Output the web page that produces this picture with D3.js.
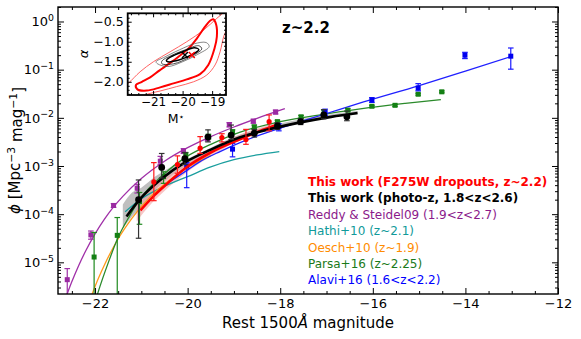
<!DOCTYPE html>
<html><head><meta charset="utf-8">
<script src="https://cdn.jsdelivr.net/npm/d3@7"></script>
<style>
body{margin:0;background:#fff;}
svg{display:block;font-family:"DejaVu Sans",sans-serif;}
</style></head><body>
<svg id="c" width="581" height="339"></svg>
<script>
// ---------- DATA (values are log10 of phi) ----------
const xMajorTicks = [-22,-20,-18,-16,-14,-12];
const yMajorTicks = [1e-5,1e-4,1e-3,1e-2,1e-1,1];
const insetXTicks = [-21,-20,-19];
const insetYTicks = [-2.0,-1.5,-1.0,-0.5];

// points: [M, logphi, logphi_low, logphi_high]
const redPts = [[-20.73,-3.33,-3.72,-2.93],[-20.22,-2.97,-3.15,-2.79],[-19.73,-2.63,-2.74,-2.39],[-19.26,-2.41,-2.50,-2.33],[-18.74,-2.45,-2.55,-2.24],[-18.24,-2.08,-2.27,-1.94]];
const blackPts = [[-21.06,-3.70,-4.50,-3.29],[-20.56,-3.03,-3.25,-2.74],[-20.06,-2.85,-2.97,-2.72],[-19.56,-2.40,-2.50,-2.25],[-19.06,-2.36,-2.45,-2.15],[-18.56,-2.32,-2.40,-2.24],[-18.06,-2.17,-2.24,-2.10],[-17.56,-2.08,-2.14,-2.02],[-17.06,-1.94,-2.02,-1.83],[-16.56,-1.98,-2.06,-1.86]];
const purplePts = [[-22.6,-5.36,-6.5,-5.13],[-22.09,-4.43,-4.52,-4.35],[-21.6,-3.82,-3.86,-3.78],[-21.09,-3.46,-3.56,-3.38],[-20.59,-2.90,-2.97,-2.80],[-20.09,-2.69,-2.74,-2.64],[-19.57,-2.43,-2.48,-2.38],[-19.1,-2.14,-2.19,-2.10],[-18.58,-2.07,-2.11,-2.03],[-18.1,-1.88,-1.92,-1.84]];
const greenPts = [[-22.02,-4.89,-6.5,-4.38],[-21.52,-4.44,-6.5,-4.07],[-21.04,-3.74,-4.21,-3.55],[-20.52,-3.22,-3.36,-3.12],[-20.04,-2.78,-2.85,-2.72],[-19.55,-2.39,-2.44,-2.34],[-19.03,-2.29,-2.33,-2.25],[-18.56,-2.19,-2.23,-2.15],[-18.06,-2.08,-2.11,-2.05],[-17.55,-1.98,-2.01,-1.95],[-17.05,-1.88,-1.91,-1.85],[-16.54,-1.84,-1.87,-1.81],[-16.02,-1.76,-1.78,-1.74],[-15.52,-1.74,-1.76,-1.72],[-15.02,-1.51,-1.53,-1.49],[-14.51,-1.46,-1.48,-1.44]];
const bluePts = [[-20.02,-3.00,-3.45,-2.93],[-19.03,-2.65,-2.81,-2.53],[-18.03,-2.19,-2.27,-2.12],[-17.03,-1.88,-1.95,-1.82],[-16.02,-1.63,-1.68,-1.58],[-15.02,-1.38,-1.44,-1.29],[-14.01,-0.70,-0.77,-0.64],[-13.02,-0.72,-0.99,-0.55]];

// fit curves: [M, logphi]
const redFit = [[-21.02,-3.92],[-20.75,-3.64],[-20.54,-3.45],[-20.03,-3.03],[-19.5,-2.72],[-18.88,-2.45],[-18.45,-2.28],[-18.02,-2.13]];
const blackFit = [[-21.32,-4.05],[-21.04,-3.70],[-20.54,-3.25],[-20.03,-2.91],[-19.5,-2.66],[-18.88,-2.41],[-18.45,-2.29],[-17.59,-2.10],[-16.9,-1.98],[-16.33,-1.90]];
const purpleFit = [[-22.65,-5.78],[-22.5,-5.40],[-22.35,-5.06],[-22.2,-4.76],[-22.0,-4.41],[-21.8,-4.11],[-21.6,-3.85],[-21.4,-3.63],[-21.0,-3.26],[-20.5,-2.90],[-20.0,-2.62],[-19.5,-2.39],[-19.0,-2.19],[-18.5,-2.01],[-17.9,-1.81]];
const cyanFit = [[-21.35,-3.95],[-21.0,-3.68],[-20.5,-3.42],[-20.0,-3.22],[-19.5,-3.02],[-19.0,-2.87],[-18.5,-2.77],[-18.02,-2.70]];
const orangeFit = [[-22.15,-5.89],[-22.0,-5.50],[-21.8,-5.06],[-21.5,-4.51],[-21.2,-4.08],[-20.8,-3.63],[-20.4,-3.30],[-20.0,-3.03],[-19.5,-2.78]];
const greenFit = [[-22.05,-6.0],[-21.94,-5.64],[-21.7,-4.97],[-21.51,-4.50],[-21.25,-4.03],[-21.04,-3.70],[-20.54,-3.19],[-20.03,-2.81],[-19.5,-2.55],[-18.88,-2.30],[-18.0,-2.08],[-17.0,-1.92],[-16.08,-1.79],[-15.3,-1.70],[-14.53,-1.62]];
const blueFit = [[-20.5,-3.40],[-20.0,-3.08],[-19.75,-2.92],[-19.3,-2.70],[-18.88,-2.52],[-18.45,-2.36],[-17.8,-2.15],[-17.0,-1.91],[-16.2,-1.67],[-15.0,-1.33],[-14.0,-1.03],[-13.02,-0.73]];

// uncertainty bands: [M, low, high]
const blackBand = [[-21.4,-4.30,-3.80],[-21.2,-4.05,-3.55],[-21.0,-3.85,-3.45],[-20.7,-3.50,-3.22],[-20.4,-3.24,-3.04],[-20.0,-2.98,-2.85],[-19.5,-2.71,-2.62],[-19.0,-2.47,-2.40],[-18.0,-2.18,-2.12],[-17.0,-2.0,-1.94],[-16.33,-1.93,-1.86]];
const redBand = [[-21.1,-4.15,-3.70],[-20.8,-3.80,-3.45],[-20.5,-3.52,-3.25],[-20.0,-3.12,-2.93],[-19.5,-2.80,-2.65],[-19.0,-2.52,-2.40],[-18.5,-2.32,-2.22],[-18.0,-2.18,-2.07]];

// inset contours: [Mstar, alpha]
const redThick = [[-18.96,-0.44],[-18.86,-0.58],[-18.84,-0.875],[-18.92,-1.17],[-19.13,-1.58],[-19.41,-1.81],[-19.86,-1.94],[-20.31,-2.04],[-20.76,-2.14],[-21.21,-2.22],[-21.53,-2.19],[-21.58,-2.08],[-21.38,-2.0],[-21.10,-1.89],[-20.79,-1.72],[-20.48,-1.56],[-20.14,-1.375],[-19.80,-1.17],[-19.52,-0.92],[-19.24,-0.625],[-19.07,-0.475]];
const redThin = [[-22.1,-2.2],[-21.84,-2.04],[-21.44,-1.75],[-20.99,-1.50],[-20.42,-1.25],[-19.86,-1.0],[-19.29,-0.71],[-18.84,-0.415],[-18.5,-0.21],[-18.3,-0.1],[-18.3,-0.4],[-18.59,-0.83],[-18.73,-1.25],[-18.9,-1.58],[-19.18,-1.83],[-19.63,-2.0],[-20.2,-2.12],[-20.76,-2.23],[-21.2,-2.31],[-21.6,-2.45],[-22.1,-2.5]];
const blackOuter = [[-20.85,-1.55],[-20.5,-1.62],[-20.0,-1.50],[-19.5,-1.32],[-19.1,-1.12],[-19.2,-1.02],[-19.6,-1.05],[-20.1,-1.20],[-20.6,-1.38],[-20.9,-1.50]];
const blackMid = [[-20.7,-1.55],[-20.3,-1.55],[-19.8,-1.40],[-19.35,-1.18],[-19.45,-1.10],[-19.9,-1.20],[-20.4,-1.35],[-20.7,-1.48]];
const blackInner = [[-20.5,-1.50],[-20.1,-1.45],[-19.7,-1.33],[-19.45,-1.20],[-19.6,-1.15],[-20.0,-1.25],[-20.4,-1.38],[-20.55,-1.47]];
const bestBlack = [-19.92,-1.33];
const bestRed = [-19.69,-1.33];

const legendLabels = ["This work (F275W dropouts, z~2.2)","This work (photo-z, 1.8<z<2.6)","Reddy & Steidel09 (1.9<z<2.7)","Hathi+10 (z~2.1)","Oesch+10 (z~1.9)","Parsa+16 (z~2.25)","Alavi+16 (1.6<z<2.2)"];
const legendColors = ["#ff0000","#000000","#8b1a8b","#119a9a","#ff8c00","#1a7a1a","#0000ff"];
const legendBold = [true,true,false,false,false,false,false];

// ---------- DRAW ----------
const svg = d3.select("#c");
const P = {l:58, r:558, t:7, b:294};
const x = d3.scaleLinear().domain([-22.8,-12]).range([P.l,P.r]);
const y = d3.scaleLog().domain([2.2e-6,2]).range([P.b,P.t]);
const yl = v => y(Math.pow(10,v));
const defs = svg.append("defs");
defs.append("clipPath").attr("id","pc").append("rect").attr("x",P.l).attr("y",P.t).attr("width",P.r-P.l).attr("height",P.b-P.t);
const plot = svg.append("g").attr("clip-path","url(#pc)");

const area = d3.area().x(d=>x(d[0])).y0(d=>yl(d[1])).y1(d=>yl(d[2])).curve(d3.curveMonotoneX);
const line = d3.line().x(d=>x(d[0])).y(d=>yl(d[1])).curve(d3.curveMonotoneX);

plot.append("path").datum(blackBand).attr("d",area).attr("fill","#8a8a8a").attr("opacity",0.55);
plot.append("path").datum(redBand).attr("d",area).attr("fill","#f4a0a0").attr("opacity",0.6);

const thinFits = [[purpleFit,"#a030a8"],[cyanFit,"#1a9e9e"],[orangeFit,"#ff9a1a"],[greenFit,"#2a8a2a"],[blueFit,"#2020ff"]];
thinFits.forEach(([d,c])=>{
  plot.append("path").datum(d).attr("d",line).attr("fill","none").attr("stroke",c).attr("stroke-width",1.3);
});

function errbars(data,color,w){
  const g = plot.append("g");
  data.forEach(d=>{
    const cx = x(d[0]);
    g.append("line").attr("x1",cx).attr("x2",cx).attr("y1",yl(d[2])).attr("y2",yl(d[3])).attr("stroke",color).attr("stroke-width",w);
    [d[2],d[3]].forEach(v=>{
      g.append("line").attr("x1",cx-2.8).attr("x2",cx+2.8).attr("y1",yl(v)).attr("y2",yl(v)).attr("stroke",color).attr("stroke-width",w);
    });
  });
}
function squares(data,color,s){
  plot.append("g").selectAll("rect").data(data).join("rect")
    .attr("x",d=>x(d[0])-s/2).attr("y",d=>yl(d[1])-s/2).attr("width",s).attr("height",s).attr("fill",color);
}
function circles(data,color,r){
  plot.append("g").selectAll("circle").data(data).join("circle")
    .attr("cx",d=>x(d[0])).attr("cy",d=>yl(d[1])).attr("r",r).attr("fill",color);
}
errbars(purplePts,"#a030a8",1.2); squares(purplePts,"#9a2aa2",5);
errbars(greenPts,"#1f8a1f",1.2); squares(greenPts,"#148014",5);
errbars(bluePts,"#1a1aff",1.2); squares(bluePts,"#0000ee",5);

plot.append("path").datum(redFit).attr("d",line).attr("fill","none").attr("stroke","#ff0000").attr("stroke-width",2.6);
plot.append("path").datum(blackFit).attr("d",line).attr("fill","none").attr("stroke","#000").attr("stroke-width",2.6);
errbars(redPts,"#ff1a1a",1.2); circles(redPts,"#ff0000",2.6);
errbars(blackPts,"#333",1.2); circles(blackPts,"#000",3.4);

// axes
function styleAxis(g){ g.select(".domain").remove(); g.selectAll(".tick line").attr("stroke","#000").attr("stroke-width",1); }
const xMinor = d3.range(-22.5,-12,0.5).filter(v=>!xMajorTicks.includes(v));
const yMinor = [];
for(let e=-6;e<=0;e++){ for(let k=2;k<=9;k++){ const v=k*Math.pow(10,e); if(v>=2.2e-6 && v<=2) yMinor.push(v);} }

const gxb = svg.append("g").attr("transform",`translate(0,${P.b})`).call(d3.axisBottom(x).tickValues(xMajorTicks).tickSize(-6).tickPadding(5).tickFormat(d3.format("d")));
styleAxis(gxb); gxb.selectAll("text").attr("font-size",13).attr("font-family","DejaVu Sans").attr("fill","#000");
const gxbm = svg.append("g").attr("transform",`translate(0,${P.b})`).call(d3.axisBottom(x).tickValues(xMinor).tickSize(-3).tickFormat(""));
styleAxis(gxbm);
const gxt = svg.append("g").attr("transform",`translate(0,${P.t})`).call(d3.axisTop(x).tickValues(xMajorTicks).tickSize(-6).tickFormat(""));
styleAxis(gxt);
const gxtm = svg.append("g").attr("transform",`translate(0,${P.t})`).call(d3.axisTop(x).tickValues(xMinor).tickSize(-3).tickFormat(""));
styleAxis(gxtm);

const gyl = svg.append("g").attr("transform",`translate(${P.l},0)`).call(d3.axisLeft(y).tickValues(yMajorTicks).tickSize(-6).tickPadding(4));
styleAxis(gyl);
gyl.selectAll(".tick text").each(function(d){
  const e = Math.round(Math.log10(d));
  const t = d3.select(this).attr("font-size",13).attr("font-family","DejaVu Sans").attr("fill","#000");
  t.text(null);
  t.append("tspan").text("10");
  t.append("tspan").attr("dy","-0.55em").attr("font-size","0.72em").text(e<0?"\u2212"+(-e):String(e));
});
const gylm = svg.append("g").attr("transform",`translate(${P.l},0)`).call(d3.axisLeft(y).tickValues(yMinor).tickSize(-3).tickFormat(""));
styleAxis(gylm);
const gyr = svg.append("g").attr("transform",`translate(${P.r},0)`).call(d3.axisRight(y).tickValues(yMajorTicks).tickSize(-6).tickFormat(""));
styleAxis(gyr);
const gyrm = svg.append("g").attr("transform",`translate(${P.r},0)`).call(d3.axisRight(y).tickValues(yMinor).tickSize(-3).tickFormat(""));
styleAxis(gyrm);

svg.append("rect").attr("x",P.l).attr("y",P.t).attr("width",P.r-P.l).attr("height",P.b-P.t).attr("fill","none").attr("stroke","#000").attr("stroke-width",1.4);

// axis labels
const xl = svg.append("text").attr("x",(P.l+P.r)/2).attr("y",328).attr("text-anchor","middle").attr("font-size",15).attr("fill","#000");
xl.append("tspan").text("Rest 1500");
xl.append("tspan").attr("font-style","italic").text("Å");
xl.append("tspan").text(" magnitude");
const ylab = svg.append("text").attr("transform",`translate(20,${(P.t+P.b)/2}) rotate(-90)`).attr("text-anchor","middle").attr("font-size",15).attr("fill","#000");
ylab.append("tspan").attr("font-style","italic").text("\u03d5");
ylab.append("tspan").text(" [Mpc");
ylab.append("tspan").attr("dy","-0.5em").attr("font-size","0.72em").text("\u22123");
ylab.append("tspan").attr("dy","0.5em").text(" mag");
ylab.append("tspan").attr("dy","-0.5em").attr("font-size","0.72em").text("\u22121");
ylab.append("tspan").attr("dy","0.5em").text("]");

// title
svg.append("text").attr("x",282).attr("y",33).attr("font-size",15).attr("font-weight","bold").attr("fill","#000").text("z~2.2");

// legend
legendLabels.forEach((s,i)=>{
  svg.append("text").attr("x",308).attr("y",186+i*16.4).attr("font-size",12)
    .attr("font-weight",legendBold[i]?"bold":"normal").attr("fill",legendColors[i]).text(s);
});

// ---------- INSET ----------
const I = {l:127.7, r:226, t:13.3, b:95};
const xi = d3.scaleLinear().domain([-21.86,-18.53]).range([I.l,I.r]);
const yi = d3.scaleLinear().domain([-2.33,-0.29]).range([I.b,I.t]);
svg.append("rect").attr("x",I.l).attr("y",I.t).attr("width",I.r-I.l).attr("height",I.b-I.t).attr("fill","#fff");
defs.append("clipPath").attr("id","ic").append("rect").attr("x",I.l).attr("y",I.t).attr("width",I.r-I.l).attr("height",I.b-I.t);
const ins = svg.append("g").attr("clip-path","url(#ic)");
const cl = d3.line().x(d=>xi(d[0])).y(d=>yi(d[1])).curve(d3.curveCatmullRomClosed.alpha(0.5));
ins.append("path").datum(redThin).attr("d",cl).attr("fill","none").attr("stroke","#ff5050").attr("stroke-width",0.9);
ins.append("path").datum(redThick).attr("d",cl).attr("fill","none").attr("stroke","#ff0000").attr("stroke-width",2);
ins.append("path").datum(blackOuter).attr("d",cl).attr("fill","none").attr("stroke","#555").attr("stroke-width",0.7);
ins.append("path").datum(blackMid).attr("d",cl).attr("fill","none").attr("stroke","#222").attr("stroke-width",0.8);
ins.append("path").datum(blackInner).attr("d",cl).attr("fill","none").attr("stroke","#000").attr("stroke-width",1.5);
function xmark(p,color){
  const cx=xi(p[0]), cy=yi(p[1]), s=3;
  ins.append("path").attr("d",`M${cx-s},${cy-s}L${cx+s},${cy+s}M${cx-s},${cy+s}L${cx+s},${cy-s}`).attr("stroke",color).attr("stroke-width",1.5);
}
xmark(bestBlack,"#000"); xmark(bestRed,"#ff0000");

const ixMinor = d3.range(-21.75,-18.5,0.25).filter(v=>!insetXTicks.includes(v));
const iyMinor = d3.range(-2.3,-0.3,0.1).map(v=>Math.round(v*10)/10).filter(v=>!insetYTicks.includes(v));
const gib = svg.append("g").attr("transform",`translate(0,${I.b})`).call(d3.axisBottom(xi).tickValues(insetXTicks).tickSize(-4).tickPadding(2).tickFormat(d3.format("d")));
styleAxis(gib); gib.selectAll("text").attr("font-size",12).attr("font-family","DejaVu Sans").attr("fill","#000");
styleAxis(svg.append("g").attr("transform",`translate(0,${I.b})`).call(d3.axisBottom(xi).tickValues(ixMinor).tickSize(-2).tickFormat("")));
styleAxis(svg.append("g").attr("transform",`translate(0,${I.t})`).call(d3.axisTop(xi).tickValues(insetXTicks).tickSize(-4).tickFormat("")));
styleAxis(svg.append("g").attr("transform",`translate(0,${I.t})`).call(d3.axisTop(xi).tickValues(ixMinor).tickSize(-2).tickFormat("")));
const gil = svg.append("g").attr("transform",`translate(${I.l},0)`).call(d3.axisLeft(yi).tickValues(insetYTicks).tickSize(-4).tickPadding(4).tickFormat(d3.format(".1f")));
styleAxis(gil); gil.selectAll("text").attr("font-size",12.5).attr("font-family","DejaVu Sans").attr("fill","#000");
styleAxis(svg.append("g").attr("transform",`translate(${I.l},0)`).call(d3.axisLeft(yi).tickValues(iyMinor).tickSize(-2).tickFormat("")));
styleAxis(svg.append("g").attr("transform",`translate(${I.r},0)`).call(d3.axisRight(yi).tickValues(insetYTicks).tickSize(-4).tickFormat("")));
styleAxis(svg.append("g").attr("transform",`translate(${I.r},0)`).call(d3.axisRight(yi).tickValues(iyMinor).tickSize(-2).tickFormat("")));
svg.append("rect").attr("x",I.l).attr("y",I.t).attr("width",I.r-I.l).attr("height",I.b-I.t).attr("fill","none").attr("stroke","#000").attr("stroke-width",1.8);

svg.append("text").attr("transform","translate(88,54) rotate(-90)").attr("text-anchor","middle").attr("font-size",13).attr("font-style","italic").attr("fill","#000").text("\u03b1");
const ml = svg.append("text").attr("x",176).attr("y",123).attr("text-anchor","middle").attr("font-size",12.5).attr("fill","#000");
ml.append("tspan").text("M");
ml.append("tspan").attr("dy","-0.35em").attr("font-size","0.75em").text("\u22c6");
</script></body></html>
